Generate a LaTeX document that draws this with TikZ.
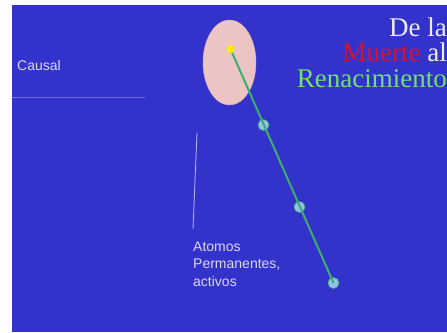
\documentclass[tikz,border=0pt]{standalone}
\usepackage{fontspec}
\setmainfont{Liberation Serif}
\newfontfamily\labelfont{Liberation Sans}
\usetikzlibrary{shapes.geometric}
\definecolor{slideblue}{RGB}{51,51,204}
\definecolor{halopink}{RGB}{236,196,196}
\definecolor{linegreen}{RGB}{60,175,110}
\definecolor{atomblue}{RGB}{150,190,240}
\definecolor{sunyellow}{RGB}{255,238,0}
\definecolor{deathred}{RGB}{210,20,50}
\definecolor{rebirthgreen}{RGB}{110,225,110}
\definecolor{titlewhite}{RGB}{235,235,245}
\definecolor{labeltext}{RGB}{215,215,245}
\definecolor{hline}{RGB}{110,110,235}
\definecolor{vline}{RGB}{185,185,245}
\tikzset{
  title/.style={anchor=base east, inner sep=0pt, font=\fontsize{27}{27}\selectfont},
  lbl/.style={anchor=base west, inner sep=0pt, text=labeltext, font=\labelfont\fontsize{14}{17}\selectfont},
  atom/.style={circle, minimum size=11pt, inner sep=0pt, fill=atomblue, draw=linegreen, line width=0.6pt},
}
\begin{document}
\begin{tikzpicture}[x=1pt,y=-1pt]
\useasboundingbox (0,0) rectangle (447,332);
\fill[white] (0,0) rectangle (447,332);
\fill[slideblue] (12,5) rectangle (447,332);
% title
\node[title, text=titlewhite] (t1) at (447,36) {De la};
\node[title] (t2) at (447,61.5) {\textcolor{deathred}{Muerte} \textcolor{titlewhite}{al}};
\node[title, text=rebirthgreen] (t3) at (447,87) {Renacimiento};
% left labels
\node[lbl] (causal) at (17,70) {Causal};
\coordinate (h1) at (12,97);
\coordinate (h2) at (145,97);
\draw[hline, line width=1pt] (h1) -- (h2);
\coordinate (v1) at (197,133);
\coordinate (v2) at (193,229);
\draw[vline, line width=0.8pt] (v1) -- (v2);
\node[lbl] (at1) at (193,251) {Atomos};
\node[lbl] (at2) at (193,268.5) {Permanentes,};
\node[lbl] (at3) at (193,286) {activos};
% causal body
\node[ellipse, minimum width=53pt, minimum height=85pt, inner sep=0pt, fill=halopink, draw=halopink!92!black, line width=0.4pt] (halo) at (229.5,62.5) {};
\node[atom] (c1) at (263.5,125) {};
\node[atom] (c2) at (299.5,207) {};
\node[atom] (c3) at (333.5,283) {};
\node[circle, minimum size=8pt, inner sep=0pt, fill=sunyellow] (sun) at (230.5,49) {};
\draw[linegreen, line width=2pt] (sun) -- (c3.center);
\end{tikzpicture}
\end{document}
